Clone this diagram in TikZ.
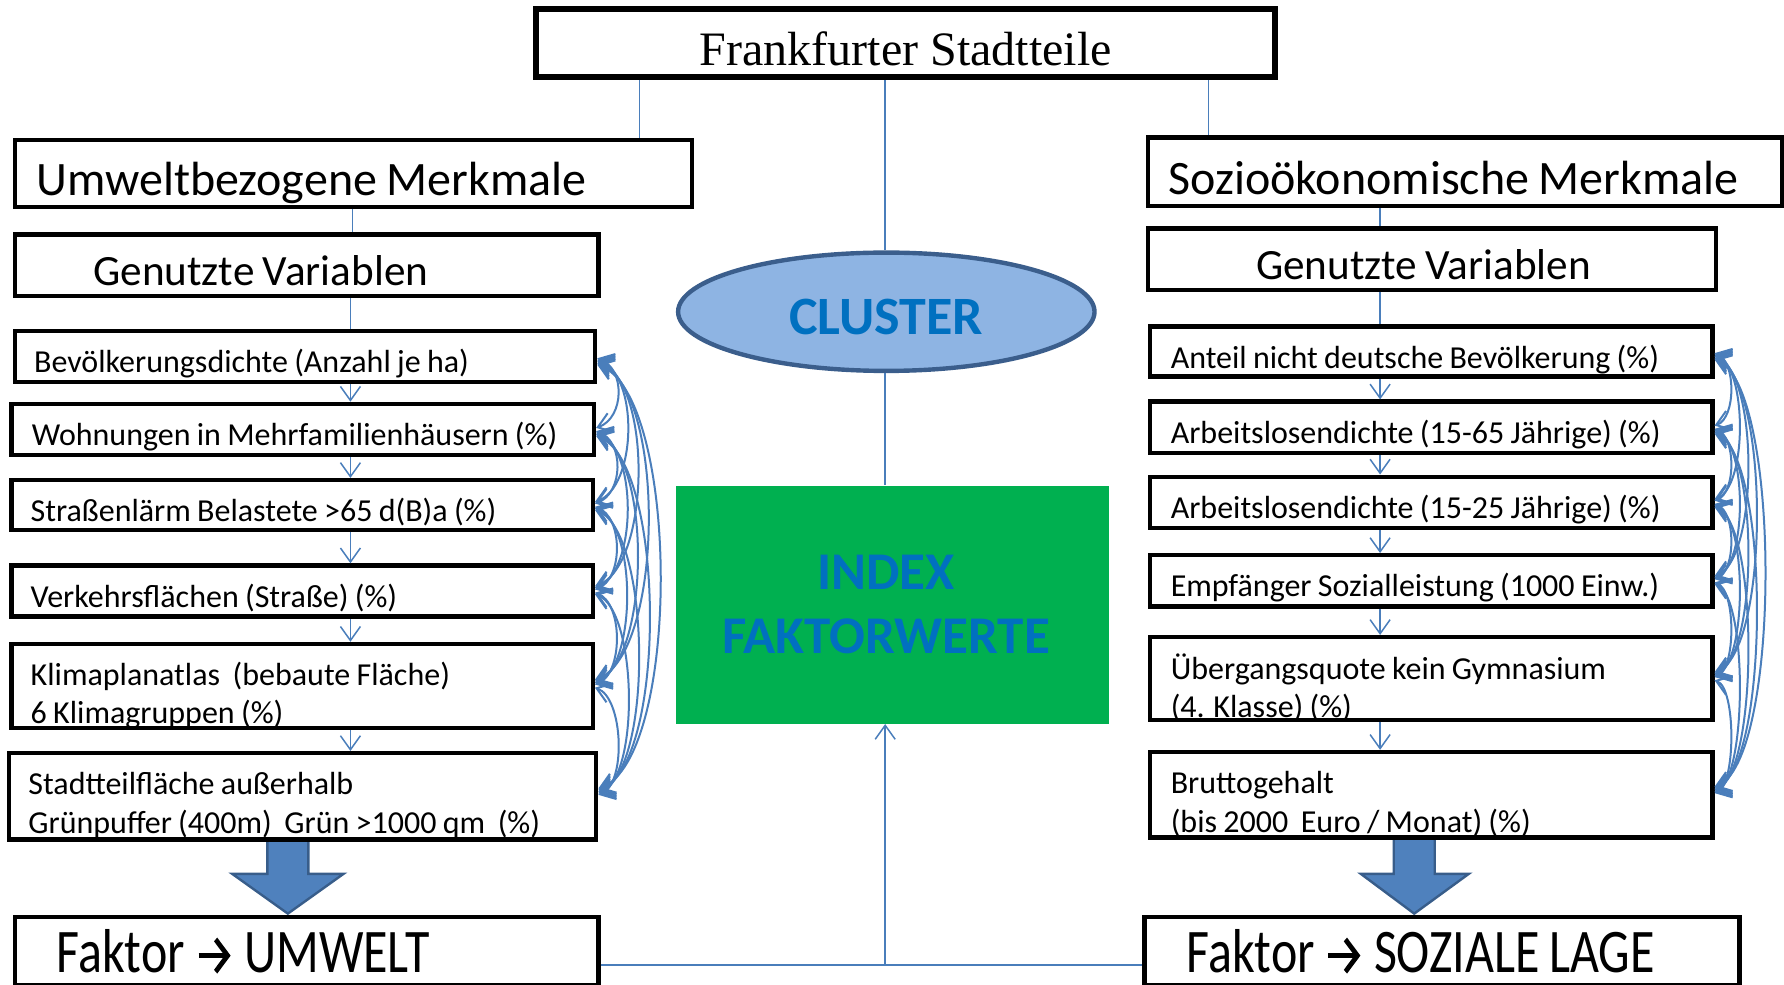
\documentclass[tikz,border=0pt]{standalone}
\usepackage{fontspec}
\usepackage{graphicx}
\setmainfont{Carlito}[WordSpace=0.87]
\newfontfamily\tnr{Liberation Serif}
\usetikzlibrary{arrows.meta,shapes.geometric}
\definecolor{lineblue}{HTML}{4A7EBB}
\definecolor{txtblue}{HTML}{0070C0}
\definecolor{ellfill}{HTML}{8EB4E3}
\definecolor{ellborder}{HTML}{3B5E8C}
\definecolor{idxgreen}{HTML}{00B050}
\definecolor{arrfill}{HTML}{4F81BD}
\definecolor{arrborder}{HTML}{385D8A}
% name, left, top, right, bottom, indent, style, text, lowering
\newcommand\mkbox[9]{%
  \pgfmathsetmacro\bw{(#4-#2)*0.568878}%
  \pgfmathsetmacro\bh{(#5-#3)*0.568878}%
  \pgfmathsetmacro\tw{(#4-#2-2*#6)*0.568878}%
  \node[boxstyle, minimum width=\bw pt, minimum height=\bh pt, #7] (#1) at ({(#2+#4)/2},{(#3+#5)/2})
    {\raisebox{-#9}[\height][\depth]{\parbox{\tw pt}{\raggedright #8}}};}
\newcommand\farrow{\hspace{5.7pt}\tikz[baseline=0pt]\draw[line width=2.2pt,
   -{Straight Barb[length=6pt,width=13pt,line width=2.2pt]}] (0pt,7pt) -- (16pt,7pt);\hspace{5.7pt}}
\tikzset{
  boxstyle/.style={draw=black, line width=2.2pt, fill=white, inner sep=0pt, anchor=center},
  big/.style={font=\fontsize{24}{28}\selectfont},
  fak/.style={font=\fontsize{25}{29}\selectfont},
  mid/.style={font=\fontsize{21.6}{25}\selectfont},
  small/.style={font=\fontsize{16}{19.3}\selectfont},
  conn/.style={draw=lineblue, line width=0.75pt},
  varrow/.style={conn, -{Straight Barb[length=7pt,width=10pt]}},
  carrow/.style={draw=lineblue, line width=1pt,
     {Straight Barb[length=7pt,width=10pt]}-{Straight Barb[length=7pt,width=10pt]}},
  blockarrow/.style={fill=arrfill, draw=arrborder, line width=1.2pt, line join=miter},
}
\begin{document}
\begin{tikzpicture}[x=0.568878pt, y=-0.568878pt]
\useasboundingbox (0,0) rectangle (1568,865);

% block arrows (under boxes)
\draw[blockarrow] (235,736) -- (271,736) -- (271,768) -- (302,768) -- (253,803) -- (204,768) -- (235,768) -- cycle;
\draw[blockarrow] (1225,734) -- (1261,734) -- (1261,768) -- (1291,768) -- (1243,803) -- (1196,768) -- (1225,768) -- cycle;

% title
\node[draw=black, line width=3pt, fill=white, minimum width={650*0.568878pt}, minimum height={60*0.568878pt},
      inner sep=0pt, font=\tnr\fontsize{24}{28}\selectfont] (T) at (796,38)
      {\raisebox{-2.8pt}[\height][\depth]{Frankfurter Stadtteile}};

% left column
\mkbox{U}{13}{123}{608}{182}{19}{big}{Umweltbezogene Merkmale}{4.6pt}
\mkbox{GL}{13}{206}{526}{260}{69}{mid}{Genutzte Variablen}{2.8pt}
\mkbox{L1}{13}{291}{523}{336}{17}{small}{Bevölkerungsdichte (Anzahl je ha)}{3.3pt}
\mkbox{L2}{10}{355}{522}{400}{18}{small}{Wohnungen in Mehrfamilienhäusern (\%)}{3.3pt}
\mkbox{L3}{10}{422}{521}{466}{17}{small}{Straßenlärm Belastete >65 d(B)a (\%)}{3.3pt}
\mkbox{L4}{10}{497}{521}{542}{17}{small}{Verkehrsflächen (Straße) (\%)}{3.3pt}
\mkbox{L5}{10}{566}{521}{640}{17}{small}{Klimaplanatlas\ \ (bebaute Fläche)\\6 Klimagruppen (\%)}{4.8pt}
\mkbox{L6}{8}{662}{524}{738}{17}{small}{Stadtteilfläche außerhalb\\Grünpuffer (400m)\ \ Grün >1000 qm\ \ (\%)}{4.6pt}
\mkbox{FU}{13}{806}{526}{866}{37}{fak}{\scalebox{1}[1.24]{Faktor\farrow UMWELT}}{0.5pt}

% right column
\mkbox{S}{1009}{121}{1566}{181}{18}{big}{Sozioökonomische Merkmale}{3pt}
\mkbox{GR}{1009}{201}{1508}{255}{95}{mid}{Genutzte Variablen}{2.5pt}
\mkbox{R1}{1011}{287}{1505}{331}{18}{small}{Anteil nicht deutsche Bevölkerung (\%)}{3.8pt}
\mkbox{R2}{1011}{353}{1505}{398}{18}{small}{Arbeitslosendichte (15-65 Jährige) (\%)}{3.6pt}
\mkbox{R3}{1011}{419}{1505}{464}{18}{small}{Arbeitslosendichte (15-25 Jährige) (\%)}{3.6pt}
\mkbox{R4}{1011}{488}{1505}{533}{18}{small}{Empfänger Sozialleistung (1000 Einw.)}{3.6pt}
\mkbox{R5}{1011}{560}{1505}{633}{18}{small}{Übergangsquote kein Gymnasium\\(4. Klasse) (\%)}{4.6pt}
\mkbox{R6}{1011}{661}{1505}{736}{18}{small}{Bruttogehalt\\(bis 2000\ \ Euro / Monat) (\%)}{4.6pt}
\mkbox{FS}{1006}{806}{1529}{866}{37}{fak}{\scalebox{1}[1.24]{Faktor\farrow SOZIALE LAGE}}{0.5pt}

% center
\node[ellipse, draw=ellborder, line width=2.2pt, fill=ellfill, minimum width={366*0.568878pt},
      minimum height={104*0.568878pt}, inner sep=0pt, text=txtblue,
      font=\bfseries\fontsize{27}{30}\selectfont] (CL) at (779,274)
      {\raisebox{-2.8pt}[\height][\depth]{CLUSTER}};
\node[fill=idxgreen, minimum width={381*0.568878pt}, minimum height={209*0.568878pt}, inner sep=0pt,
      align=center, text=txtblue, font=\bfseries\fontsize{26.5}{31.9}\selectfont] (IDX) at (784.5,531.5)
      {INDEX\hspace*{6.5pt}\\FAKTORWERTE\hspace*{6.5pt}};

% helper coordinates
\coordinate (xa) at (562,0);
\coordinate (xc) at (1062,0);
\coordinate (xl1) at (310,0);
\coordinate (xl) at (308,0);
\coordinate (xr) at (1213,0);
\coordinate (J) at (778,848);

% connectors
\draw[conn] (T.south -| xa) -- (U.north -| xa);
\draw[conn] (T.south -| J) -- (CL.north -| J);
\draw[conn] (T.south -| xc) -- (S.north -| xc);
\draw[conn] (CL.south -| J) -- (IDX.north -| J);
\draw[conn] (U.south -| xl1) -- (GL.north -| xl1);
\draw[conn] (GL.south -| xl) -- (L1.north -| xl);
\draw[conn] (S.south -| xr) -- (GR.north -| xr);
\draw[conn] (GR.south -| xr) -- (R1.north -| xr);
\foreach \a/\b in {1/2,2/3,3/4,4/5,5/6}{
  \draw[varrow] (L\a.south -| xl) -- (L\b.north -| xl);
  \draw[varrow] (R\a.south -| xr) -- (R\b.north -| xr);
}
\draw[conn] (FU.east |- J) -- (FS.west |- J);
\draw[conn, -{Straight Barb[length=7pt,width=10pt]}] (J) -- (IDX.south -| J);

% correlation curves
\foreach \a in {1,...,5}{
  \pgfmathtruncatemacro\s{\a+1}
  \foreach \b in {\s,...,6}{
    \pgfmathsetmacro\dl{13+12*(\b-\a)}
    \pgfmathsetmacro\dr{9+10*(\b-\a)}
    \pgfmathsetmacro\ea{0.35*\dl}
    \pgfmathsetmacro\er{0.35*\dr}
    \pgfmathsetmacro\oa{0.8*(\b-\a)}
    \pgfmathsetmacro\ob{-0.8*(\b-\a)}
    \draw[carrow] ([yshift=-\oa pt]L\a.east) .. controls +(\dl,\ea) and +(\dl,-\ea) .. ([yshift=-\ob pt]L\b.east);
    \draw[carrow] ([yshift=-\oa pt]R\a.east) .. controls +(\dr,\er) and +(\dr,-\er) .. ([yshift=-\ob pt]R\b.east);
  }
}
\end{tikzpicture}
\end{document}
